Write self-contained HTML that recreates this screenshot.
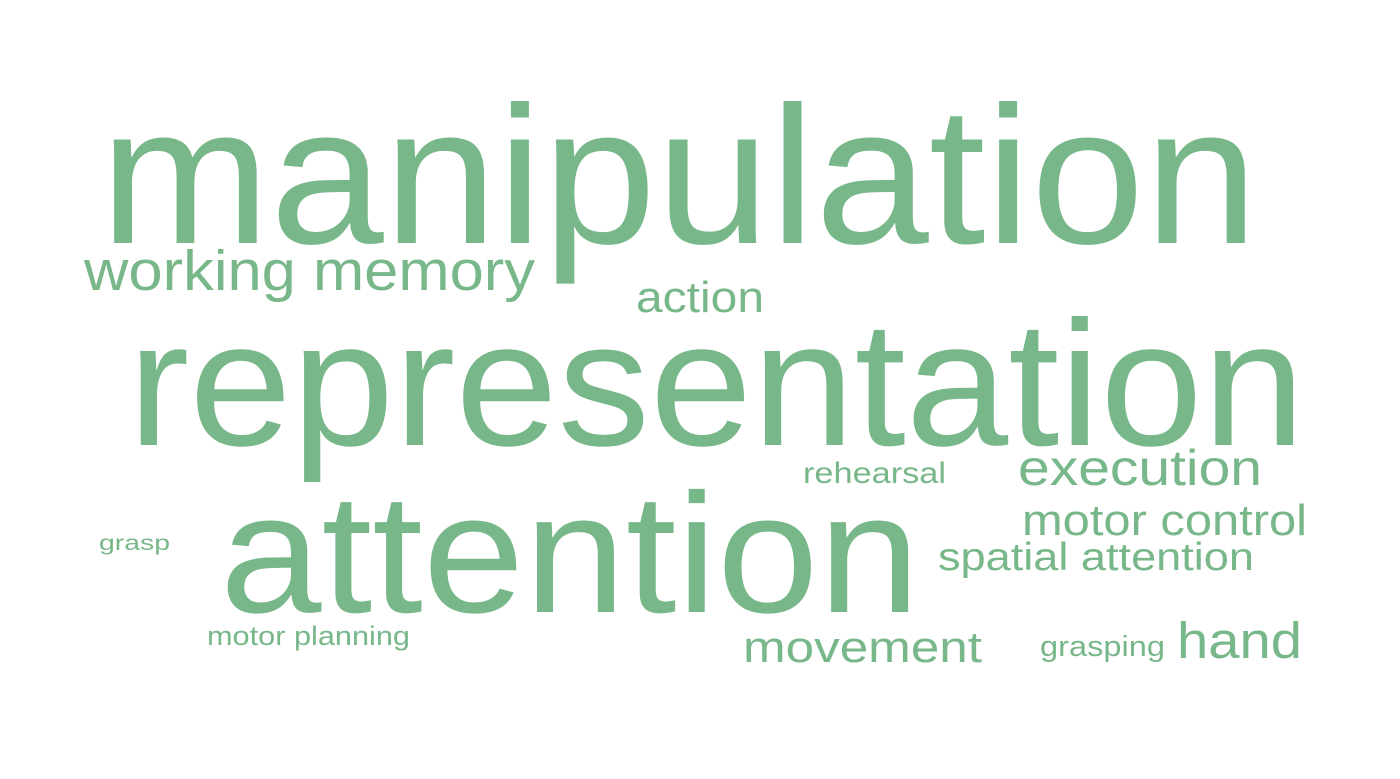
<!DOCTYPE html>
<html><head><meta charset="utf-8"><style>html,body{margin:0;padding:0;background:#fff}svg{display:block}</style></head>
<body>
<svg width="1400" height="779" xmlns="http://www.w3.org/2000/svg" font-family="Liberation Sans, Arial, sans-serif" fill="#78b78a">
<text x="100" y="243" font-size="196" textLength="1158" lengthAdjust="spacingAndGlyphs">manipulation</text>
<text x="84" y="290" font-size="57" textLength="451" lengthAdjust="spacingAndGlyphs">working memory</text>
<text x="636" y="312" font-size="44" textLength="128" lengthAdjust="spacingAndGlyphs">action</text>
<text x="128" y="445" font-size="178" textLength="1177" lengthAdjust="spacingAndGlyphs">representation</text>
<text x="803" y="483" font-size="30" textLength="143" lengthAdjust="spacingAndGlyphs">rehearsal</text>
<text x="1018" y="485" font-size="50" textLength="244" lengthAdjust="spacingAndGlyphs">execution</text>
<text x="220" y="612" font-size="170" textLength="700" lengthAdjust="spacingAndGlyphs">attention</text>
<text x="99" y="550" font-size="21" textLength="71" lengthAdjust="spacingAndGlyphs">grasp</text>
<text x="1022" y="535" font-size="44" textLength="285" lengthAdjust="spacingAndGlyphs">motor control</text>
<text x="938" y="570" font-size="39" textLength="316" lengthAdjust="spacingAndGlyphs">spatial attention</text>
<text x="207" y="645" font-size="27" textLength="203" lengthAdjust="spacingAndGlyphs">motor planning</text>
<text x="743" y="662" font-size="44" textLength="239" lengthAdjust="spacingAndGlyphs">movement</text>
<text x="1040" y="656" font-size="29" textLength="125" lengthAdjust="spacingAndGlyphs">grasping</text>
<text x="1177" y="658" font-size="51" textLength="125" lengthAdjust="spacingAndGlyphs">hand</text>
</svg>
</body></html>
